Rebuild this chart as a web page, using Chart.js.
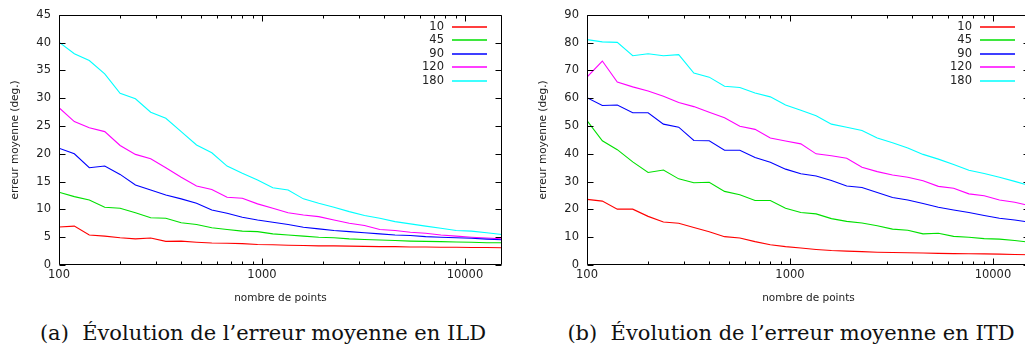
<!DOCTYPE html>
<html lang="fr">
<head>
<meta charset="utf-8">
<script src="https://cdn.jsdelivr.net/npm/chart.js@4.4.1/dist/chart.umd.min.js"></script>
<style>
  html, body { margin: 0; padding: 0; background: #fff; overflow: hidden; width: 1025px; height: 352px; }
  .panel { position: absolute; top: 0; width: 510px; height: 310px; }
  .caption {
    position: absolute; top: 321px; width: 510px; text-align: center;
    font-family: 'DejaVu Serif', serif; font-size: 21px; color: #111; white-space: nowrap;
  }
</style>
</head>
<body>
<div class="panel" style="left:0"><canvas id="ildChart" width="510" height="310"></canvas></div>
<div class="panel" style="left:528px"><canvas id="itdChart" width="510" height="310"></canvas></div>
<div class="caption" style="left:8px">(a)&nbsp; Évolution de l’erreur moyenne en ILD</div>
<div class="caption" style="left:536px">(b)&nbsp; Évolution de l’erreur moyenne en ITD</div>
<script>
// number of points (x), 2^(1/4) steps from 100
const nbPoints = [
  100, 119, 141, 168, 200, 238, 283, 336, 400, 476,
  566, 673, 800, 951, 1131, 1345, 1600, 1903, 2263, 2691,
  3200, 3805, 4525, 5382, 6400, 7611, 9051, 10763, 12800, 15222,
];
const xTickLabels = [100, 1000, 10000];

const seriesLabels = ['10', '45', '90', '120', '180'];
const seriesColors = ['#ff0000', '#00e000', '#0000ff', '#ff00ff', '#00ffff'];

// (a) ILD mean error, deg.
const ild10 = [6.85, 7.0, 5.4, 5.2, 4.9, 4.7, 4.85, 4.25, 4.3, 4.1, 3.95, 3.9, 3.85, 3.7, 3.65, 3.55, 3.5, 3.45, 3.45, 3.4, 3.35, 3.3, 3.3, 3.25, 3.25, 3.2, 3.2, 3.15, 3.15, 3.1];
const ild45 = [13.1, 12.3, 11.7, 10.4, 10.2, 9.4, 8.5, 8.4, 7.6, 7.3, 6.7, 6.4, 6.1, 6.0, 5.6, 5.4, 5.2, 5.0, 4.9, 4.7, 4.6, 4.5, 4.4, 4.3, 4.25, 4.2, 4.15, 4.1, 4.0, 4.0];
const ild90 = [21.0, 20.0, 17.5, 17.8, 16.3, 14.4, 13.5, 12.6, 11.9, 11.1, 9.9, 9.3, 8.6, 8.1, 7.7, 7.3, 6.8, 6.5, 6.2, 6.0, 5.8, 5.6, 5.4, 5.3, 5.1, 5.0, 4.9, 4.8, 4.65, 4.55];
const ild120 = [28.3, 25.8, 24.7, 24.0, 21.5, 19.9, 19.1, 17.5, 15.8, 14.2, 13.6, 12.2, 12.0, 11.0, 10.2, 9.4, 9.0, 8.7, 8.1, 7.5, 7.1, 6.4, 6.2, 5.9, 5.7, 5.4, 5.2, 5.0, 4.85, 4.7];
const ild180 = [40.1, 38.0, 36.8, 34.4, 30.9, 29.9, 27.5, 26.4, 24.0, 21.6, 20.2, 17.8, 16.5, 15.3, 13.9, 13.5, 11.9, 11.1, 10.4, 9.6, 8.9, 8.4, 7.8, 7.4, 7.0, 6.6, 6.2, 6.1, 5.8, 5.5];

// (b) ITD mean error, deg.
const itd10 = [23.6, 23.0, 20.1, 20.1, 17.5, 15.5, 15.0, 13.5, 12.0, 10.2, 9.7, 8.4, 7.3, 6.6, 6.1, 5.6, 5.2, 5.0, 4.8, 4.6, 4.5, 4.4, 4.3, 4.2, 4.1, 4.05, 4.0, 3.9, 3.8, 3.7];
const itd45 = [52.0, 44.7, 41.5, 37.1, 33.3, 34.2, 31.0, 29.6, 29.8, 26.5, 25.3, 23.2, 23.2, 20.4, 18.9, 18.4, 16.7, 15.7, 15.1, 14.1, 12.9, 12.5, 11.2, 11.4, 10.3, 10.0, 9.5, 9.3, 8.8, 8.2];
const itd90 = [60.2, 57.4, 57.6, 54.8, 54.8, 50.7, 49.6, 44.8, 44.7, 41.3, 41.3, 38.7, 37.0, 34.5, 32.85, 32.0, 30.4, 28.4, 27.9, 26.1, 24.3, 23.4, 22.1, 20.8, 19.8, 18.9, 17.8, 16.8, 16.2, 15.4];
const itd120 = [67.6, 73.4, 65.8, 64.1, 62.6, 60.7, 58.5, 57.0, 55.0, 53.0, 49.9, 48.8, 45.7, 44.6, 43.6, 40.0, 39.3, 38.4, 35.2, 33.6, 32.4, 31.6, 30.3, 28.3, 27.6, 25.6, 24.9, 23.4, 22.6, 21.3];
const itd180 = [81.1, 80.3, 80.1, 75.3, 76.0, 75.3, 75.7, 69.1, 67.6, 64.3, 63.9, 61.9, 60.5, 57.6, 55.7, 53.7, 50.7, 49.6, 48.4, 45.7, 44.0, 42.1, 39.8, 38.1, 36.2, 34.1, 32.9, 31.6, 30.1, 28.5];

const font = 'DejaVu Sans';
const textColor = '#222';

// gnuplot-like box, inward ticks and the key in the upper right corner
const gnuplotFrame = {
  id: 'gnuplotFrame',
  afterDraw(chart) {
    const { ctx, chartArea: a, scales: { x, y } } = chart;
    const l = Math.round(a.left) + 0.5;
    const r = Math.round(a.right) - 0.5;
    const t = Math.round(a.top) + 0.5;
    const b = Math.round(a.bottom) - 0.5;
    ctx.save();
    ctx.strokeStyle = '#000';
    ctx.lineWidth = 1;
    ctx.beginPath();
    ctx.rect(l, t, r - l, b - t);

    x.ticks.forEach((tick) => {
      const v = tick.value;
      const s = v / Math.pow(10, Math.floor(Math.log10(v) + 1e-9));
      if (Math.abs(s - Math.round(s)) > 1e-6) return;
      const px = Math.round(x.getPixelForValue(v)) + 0.5;
      const len = Math.round(s) === 1 ? 6 : 3;
      ctx.moveTo(px, b); ctx.lineTo(px, b - len);
      ctx.moveTo(px, t); ctx.lineTo(px, t + len);
    });
    y.ticks.forEach((tick) => {
      const py = Math.round(y.getPixelForValue(tick.value)) + 0.5;
      ctx.moveTo(l, py); ctx.lineTo(l + 6, py);
      ctx.moveTo(r, py); ctx.lineTo(r - 6, py);
    });
    ctx.stroke();

    // key
    ctx.font = `11.5px "${font}"`;
    ctx.textAlign = 'right';
    ctx.textBaseline = 'middle';
    chart.data.datasets.forEach((ds, i) => {
      const ky = Math.round(a.top + 12 + i * 13.4);
      ctx.fillStyle = textColor;
      ctx.fillText(ds.label, a.right - 58, ky);
      ctx.fillStyle = ds.borderColor;
      ctx.fillRect(Math.round(a.right - 50), ky - 0.75, 35, 1.5);
    });
    ctx.restore();
  },
};

function makeChart(id, seriesList, yMax, yStep) {
  const ctx = document.getElementById(id);
  return new Chart(ctx, {
    type: 'line',
    data: {
      datasets: seriesList.map((values, i) => ({
        label: seriesLabels[i],
        data: nbPoints.map((n, k) => ({ x: n, y: values[k] })),
        borderColor: seriesColors[i],
        borderWidth: 1.1,
        pointRadius: 0,
        tension: 0,
        fill: false,
      })),
    },
    options: {
      responsive: false,
      animation: false,
      devicePixelRatio: 1,
      layout: { padding: { top: 11, right: 8, left: 0, bottom: 0 } },
      plugins: { legend: { display: false }, tooltip: { enabled: false } },
      scales: {
        x: {
          type: 'logarithmic',
          min: nbPoints[0],
          max: nbPoints[nbPoints.length - 1],
          grid: { display: false, drawTicks: false },
          border: { display: false },
          ticks: {
            autoSkip: false,
            maxRotation: 0,
            padding: 3,
            color: textColor,
            font: { family: font, size: 11.5 },
            callback: (value) => (xTickLabels.includes(value) ? String(value) : ''),
          },
          title: {
            display: true,
            text: 'nombre de points',
            color: textColor,
            font: { family: font, size: 10.5 },
            padding: { top: 5, bottom: 5 },
          },
          afterFit: (scale) => { scale.height = 45; },
        },
        y: {
          min: 0,
          max: yMax,
          grid: { display: false, drawTicks: false },
          border: { display: false },
          ticks: {
            stepSize: yStep,
            padding: 8,
            color: textColor,
            font: { family: font, size: 11.5 },
          },
          title: {
            display: true,
            text: 'erreur moyenne (deg.)',
            color: textColor,
            font: { family: font, size: 10.5 },
            padding: { top: 9, bottom: 0 },
          },
          afterFit: (scale) => { scale.width = 59; },
        },
      },
    },
    plugins: [gnuplotFrame],
  });
}

makeChart('ildChart', [ild10, ild45, ild90, ild120, ild180], 45, 5);
makeChart('itdChart', [itd10, itd45, itd90, itd120, itd180], 90, 10);
</script>
</body>
</html>
